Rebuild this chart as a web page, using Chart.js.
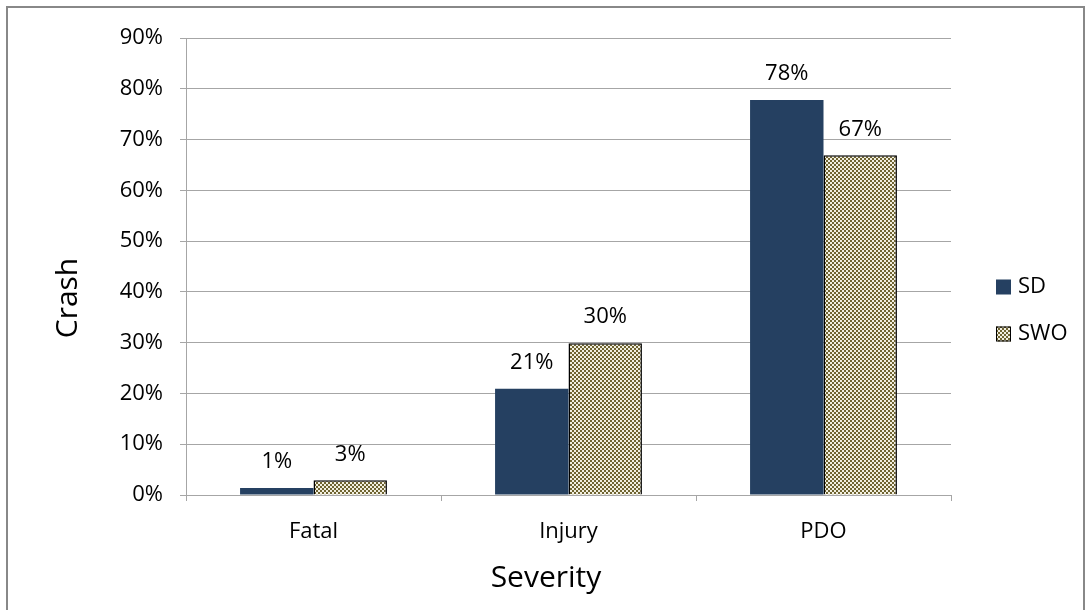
<!DOCTYPE html>
<html>
<head>
<meta charset="utf-8">
<script src="https://cdn.jsdelivr.net/npm/chart.js@4/dist/chart.umd.min.js"></script>
<style>
  body { margin: 0; background: #fff; }
  #wrap { width: 1092px; height: 610px; }
</style>
</head>
<body>
<div id="wrap"><canvas id="barChart" width="1092" height="610"></canvas></div>
<script>
  // data
  var categories = ["Fatal", "Injury", "PDO"];
  var sd_data = [1.4, 20.9, 77.8];
  var swo_data = [2.9, 29.9, 66.9];
  var series_names = ["SD", "SWO"];
  var y_ticks = [0, 10, 20, 30, 40, 50, 60, 70, 80, 90];
  var x_title = "Severity";
  var y_title = "Crash";

  var FONT = '"Open Sans", sans-serif';
  var GRID = '#a6a6a6';

  var ctx = document.getElementById("barChart").getContext('2d');

  // small checker fill for SWO
  function makeChecker() {
    var c = document.createElement('canvas');
    c.width = 4; c.height = 4;
    var g = c.getContext('2d');
    g.fillStyle = '#6f6431';
    g.fillRect(0, 0, 4, 4);
    g.fillStyle = '#f2efe0';
    g.fillRect(0, 0, 2, 2);
    g.fillRect(2, 2, 2, 2);
    return ctx.createPattern(c, 'repeat');
  }
  var checker = makeChecker();

  var extras = {
    id: 'extras',
    beforeDraw: function(chart) {
      var c = chart.ctx;
      c.save();
      c.fillStyle = '#fff';
      c.fillRect(0, 0, chart.width, chart.height);
      c.strokeStyle = '#888888';
      c.lineWidth = 2;
      c.strokeRect(7, 7, 1077, 700);
      c.restore();
    },
    afterDatasetsDraw: function(chart) {
      var c = chart.ctx;
      c.save();
      c.font = '22px ' + FONT;
      c.fillStyle = '#000';
      c.textAlign = 'center';
      c.textBaseline = 'middle';
      chart.data.datasets.forEach(function(ds, i) {
        chart.getDatasetMeta(i).data.forEach(function(bar, j) {
          c.fillText(Math.round(ds.data[j]) + '%', bar.x, bar.y - 26);
        });
      });
      c.restore();
    },
    afterDraw: function(chart) {
      var c = chart.ctx;
      c.save();
      c.fillStyle = '#000';
      // axis titles
      c.font = '30px ' + FONT;
      c.textAlign = 'center';
      c.textBaseline = 'alphabetic';
      c.fillText(x_title, 546, 587);
      c.translate(77, 298);
      c.rotate(-Math.PI / 2);
      c.fillText(y_title, 0, 0);
      c.restore();

      // legend
      c.save();
      var ys = [287, 334];
      chart.data.datasets.forEach(function(ds, i) {
        c.fillStyle = ds.backgroundColor;
        c.fillRect(996, ys[i] - 7.5, 15, 15);
        if (ds.borderWidth) {
          c.strokeStyle = ds.borderColor;
          c.lineWidth = 1;
          c.strokeRect(996.5, ys[i] - 7, 14, 14);
        }
        c.fillStyle = '#000';
        c.font = '22px ' + FONT;
        c.textAlign = 'left';
        c.textBaseline = 'middle';
        c.fillText(ds.label, 1018, ys[i]);
      });
      c.restore();
    }
  };

  var myBarChart = new Chart(ctx, {
    type: 'bar',
    data: {
      labels: categories,
      datasets: [{
          label: series_names[0],
          data: sd_data,
          backgroundColor: '#254061',
          borderWidth: 0
        },
        {
          label: series_names[1],
          data: swo_data,
          backgroundColor: checker,
          borderColor: '#000000',
          borderWidth: 1.5
        }
      ]
    },
    options: {
      responsive: false,
      animation: false,
      layout: { padding: { top: 38, right: 141, bottom: 0, left: 0 } },
      categoryPercentage: 0.576,
      barPercentage: 1,
      plugins: {
        legend: { display: false },
        tooltip: { enabled: false }
      },
      scales: {
        x: {
          afterFit: function(s) { s.height = 115; },
          grid: { offset: true, drawOnChartArea: false, color: GRID, tickLength: 6 },
          border: { color: GRID },
          ticks: { color: '#000', padding: 18, font: { family: FONT, size: 22 } }
        },
        y: {
          min: y_ticks[0],
          max: y_ticks[y_ticks.length - 1],
          afterFit: function(s) { s.width = 186; },
          afterBuildTicks: function(s) {
            s.ticks = y_ticks.map(function(v) { return { value: v }; });
          },
          grid: { color: GRID, tickLength: 6 },
          border: { color: GRID },
          ticks: {
            color: '#000',
            padding: 17,
            font: { family: FONT, size: 22 },
            callback: function(v) { return v + '%'; }
          }
        }
      }
    },
    plugins: [extras]
  });
</script>
</body>
</html>
